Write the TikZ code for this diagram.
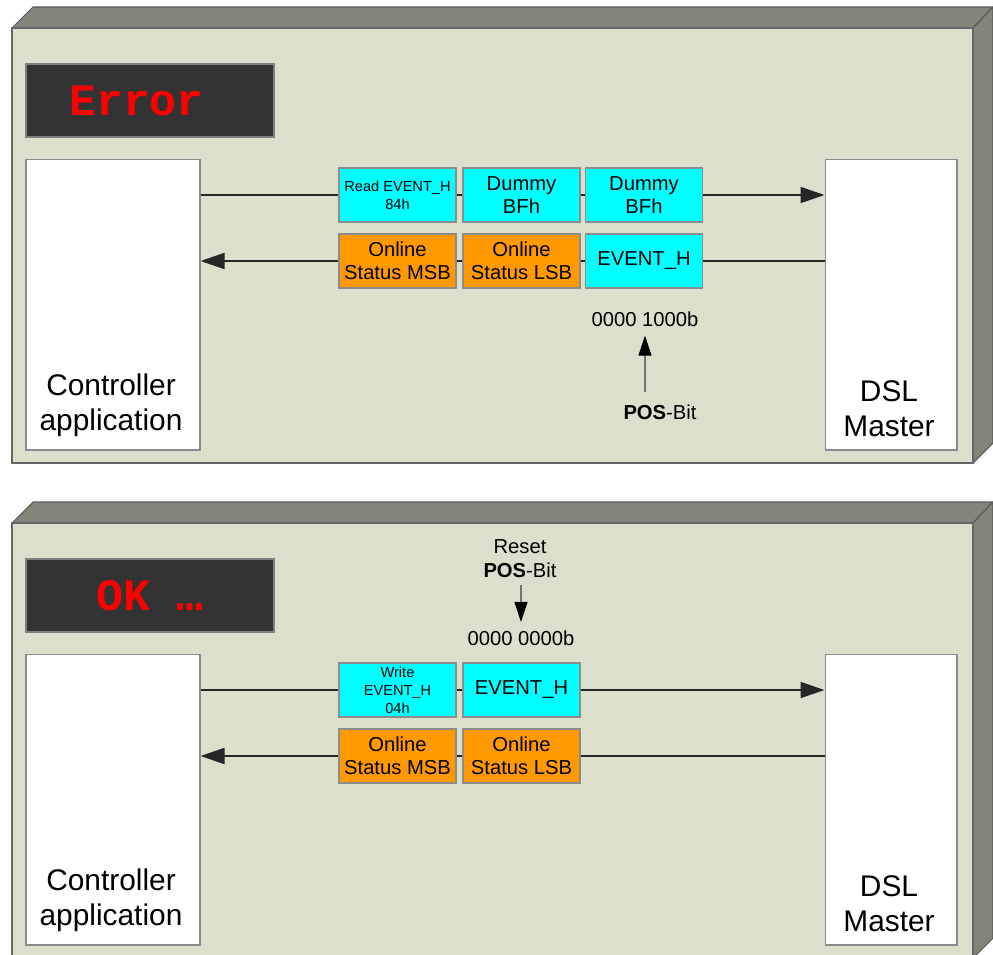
\documentclass[tikz,border=0pt]{standalone}
\usepackage{fontspec}
\setmainfont{Liberation Sans}
\newfontfamily\lcdfont{Liberation Mono}
\usepackage{tikz}
\usetikzlibrary{arrows.meta}

\definecolor{facegray}{HTML}{DCDFCB}
\definecolor{bevelgray}{HTML}{82857A}
\definecolor{lcdgray}{HTML}{333333}
\definecolor{rimgray}{HTML}{8C8C8C}
\definecolor{pktcyan}{HTML}{00FFFF}
\definecolor{pktorange}{HTML}{FF9900}

\newcommand{\housing}[1]{%
	\filldraw[bevel] (12,{28+#1}) -- (33,{7+#1}) -- (993,{7+#1}) -- (973,{28+#1}) -- cycle;
	\filldraw[bevel] (973,{28+#1}) -- (993,{7+#1}) -- (993,{443+#1}) -- (973,{463+#1}) -- cycle;
	\filldraw[front] (12,{28+#1}) rectangle (973,{463+#1});
}

\begin{document}
\begin{tikzpicture}[x=0.02cm, y=-0.02cm,
		bevel/.style={fill=bevelgray, draw=black!65, line width=0.6pt},
		front/.style={fill=facegray, draw=black!60, line width=0.6pt},
		lcd/.style={fill=lcdgray, draw=gray, line width=0.6pt, minimum width=4.96cm, minimum height=1.46cm,
			text=red, font=\lcdfont\bfseries\fontsize{25.5}{30}\selectfont},
		hostbox/.style={fill=white, draw=rimgray, line width=0.6pt, minimum width=#1, minimum height=5.82cm},
		hosttext/.style={anchor=south, inner sep=0pt, align=center, font=\fontsize{17}{19.8}\selectfont},
		pkt/.style={draw=rimgray, line width=0.6pt, minimum width=2.34cm, minimum height=1.08cm,
			inner sep=1pt, align=center, font=\fontsize{11.5}{12.9}\selectfont},
		cmd/.style={pkt, font=\fontsize{8.3}{10.3}\selectfont},
		tx/.style={fill=pktcyan},
		rx/.style={fill=pktorange},
		note/.style={inner sep=2pt, align=center, font=\fontsize{11.5}{13.6}\selectfont},
		flow/.style={draw=black!85, line width=1.1pt, -{Triangle[length=0.48cm, width=0.32cm]}},
		link/.style={draw=black!85, line width=1.1pt},
		bitarrow/.style={draw=black!55, line width=0.6pt, -{Triangle[length=0.4cm, width=0.26cm, color=black]}}]
	\useasboundingbox (0,0) rectangle (993,954);

	% upper panel: error
	\housing{0}
	\node[lcd] (lcd1) at (150,100.5) {Error\phantom{r}};
	\node[hostbox=3.48cm] (ctrl1) at (113,304.5) {};
	\node[hostbox=2.64cm] (dsl1) at (891,304.5) {};
	\node[hosttext] (ctrltxt1) at (111,437) {Controller\\application};
	\node[hosttext] (dsltxt1) at (889,437) {DSL\\Master};

	\node[cmd, tx] (rd1) at (397.5,195) {Read EVENT\_H\\84h};
	\node[pkt, tx] (dma1) at (521.5,195) {Dummy\\BFh};
	\node[pkt, tx] (dmb1) at (644,195) {Dummy\\BFh};
	\node[pkt, rx] (msb1) at (397.5,261) {Online\\Status MSB};
	\node[pkt, rx] (lsb1) at (521.5,261) {Online\\Status LSB};
	\node[pkt, tx] (ev1) at (644,261) {EVENT\_H};

	\draw[link] (ctrl1.east |- rd1.west) -- (rd1.west);
	\draw[link] (rd1.east) -- (dma1.west);
	\draw[link] (dma1.east) -- (dmb1.west);
	\draw[flow] (dmb1.east) -- (dsl1.west |- dmb1.east);
	\draw[link] (dsl1.west |- ev1.east) -- (ev1.east);
	\draw[link] (ev1.west) -- (lsb1.east);
	\draw[link] (lsb1.west) -- (msb1.east);
	\draw[flow] (msb1.west) -- (ctrl1.east |- msb1.west);

	\node[note] (bits1) at (645,319) {0000 1000b};
	\node[note] (pos1) at (660,412.5) {\textbf{POS}-Bit};
	\draw[bitarrow, shorten <=5.3pt, shorten >=3pt] (bits1.south |- pos1.north) -- (bits1.south);

	% lower panel: ok
	\housing{495}
	\node[lcd] (lcd2) at (150,595.5) {OK …};
	\node[hostbox=3.48cm] (ctrl2) at (113,799.5) {};
	\node[hostbox=2.64cm] (dsl2) at (891,799.5) {};
	\node[hosttext] (ctrltxt2) at (111,932) {Controller\\application};
	\node[hosttext] (dsltxt2) at (889,932) {DSL\\Master};

	\node[cmd, tx] (wr2) at (397.5,690) {Write\\EVENT\_H\\04h};
	\node[pkt, tx] (ev2) at (521.5,690) {EVENT\_H};
	\node[pkt, rx] (msb2) at (397.5,756) {Online\\Status MSB};
	\node[pkt, rx] (lsb2) at (521.5,756) {Online\\Status LSB};

	\draw[link] (ctrl2.east |- wr2.west) -- (wr2.west);
	\draw[link] (wr2.east) -- (ev2.west);
	\draw[flow] (ev2.east) -- (dsl2.west |- ev2.east);
	\draw[link] (dsl2.west |- lsb2.east) -- (lsb2.east);
	\draw[link] (lsb2.west) -- (msb2.east);
	\draw[flow] (msb2.west) -- (ctrl2.east |- msb2.west);

	\node[note] (reset2) at (520,559) {Reset\\\textbf{POS}-Bit};
	\node[note] (bits2) at (521,638.5) {0000 0000b};
	\draw[bitarrow, shorten <=2pt, shorten >=3pt] (bits2.north |- reset2.south) -- (bits2.north);
\end{tikzpicture}
\end{document}
